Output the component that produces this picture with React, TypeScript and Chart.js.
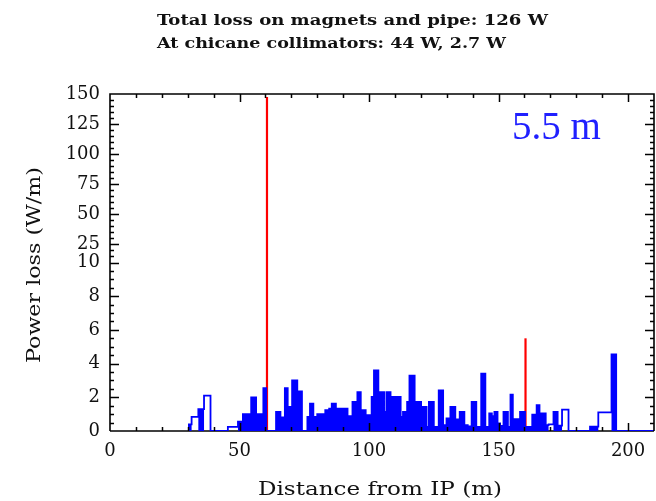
import { useEffect, useRef } from "react";
import { Chart, registerables } from "chart.js";
Chart.register(...registerables);

// Histogram bins: left edge (m), power loss (W/m), open (outline-only) flag
const binEdges = [
  30.1, 31.5, 34.1, 36.3, 38.8, 45.5, 49.4, 51.3, 54.5, 56.4, 59.2, 60.3,
  64.1, 65.8, 67.5, 68.6, 70.3, 72.3, 74.1, 76.2, 77.2, 78.5, 80.0, 83.1,
  84.6, 85.6, 87.2, 89.7, 90.0, 91.7, 93.6, 95.5, 96.8, 98.7, 99.3, 101.0,
  101.9, 103.6, 105.8, 106.7, 108.3, 112.2, 113.1, 114.7, 115.6, 117.6, 120.1, 122.2,
  123.1, 125.0, 126.9, 128.6, 129.9, 131.4, 133.3, 135.0, 136.8, 138.1, 139.6, 141.4,
  143.3, 144.9, 146.4, 147.4, 148.4, 149.6, 150.6, 151.9, 153.6, 154.6, 155.5, 158.3,
  160.2, 163.0, 164.7, 165.8, 168.2, 169.3, 171.2, 172.8, 174.5, 177.0, 185.3, 188.5,
  193.6, 195.4, 210,
];
const lossValues = [
  0.39, 0.84, 1.3, 2.1, 0, 0.25, 0.55, 1.0, 2.0, 1.0, 2.55, 0,
  1.14, 0.8, 2.55, 1.43, 3.0, 2.35, 0, 0.84, 1.63, 0.84, 1.0, 1.24,
  1.33, 1.63, 1.33, 0, 1.33, 0.88, 1.73, 2.31, 1.24, 0, 0.94, 2.02,
  3.59, 2.31, 1.14, 2.31, 2.02, 0.84, 1.14, 1.73, 3.29, 1.73, 1.43, 0.25,
  1.73, 0.25, 2.41, 0.35, 0.75, 1.43, 0.69, 1.14, 0.35, 0.28, 1.73, 0.25,
  3.4, 0.25, 1.04, 0.88, 1.14, 0.45, 0.3, 1.14, 0.25, 2.15, 0.7, 1.14,
  0.25, 0.97, 1.53, 1.04, 0.35, 0.39, 1.14, 0.32, 1.27, 0, 0.26, 1.11,
  4.55, 0, 0,
];
const openFlags = [
  0, 1, 0, 1, 0, 1, 0, 0, 0, 0, 0, 0,
  0, 0, 0, 0, 0, 0, 0, 0, 0, 0, 0, 0,
  0, 0, 0, 0, 0, 0, 0, 0, 0, 0, 0, 0,
  0, 0, 0, 0, 0, 0, 0, 0, 0, 0, 0, 0,
  0, 0, 0, 0, 0, 0, 0, 0, 0, 0, 0, 0,
  0, 0, 0, 0, 0, 0, 0, 0, 0, 0, 0, 0,
  0, 0, 0, 0, 0, 1, 0, 0, 1, 0, 0, 1,
  0, 0, 0,
];
const collimatorPositions = [60.6, 160.4];
const collimatorLoss = [147.5, 5.5];
const yTickLabels = [0, 2, 4, 6, 8, 10, 25, 50, 75, 100, 125, 150];
const xTickLabels = [0, 50, 100, 150, 200];
const titleLines = [
  "Total loss on magnets and pipe: 126 W",
  "At chicane collimators: 44 W, 2.7 W",
];
const xTitle = "Distance from IP (m)";
const yTitle = "Power loss (W/m)";
const annotation = "5.5 m";

const BREAK = 10;
const UPPER_COMPRESS = 14;
const toAxis = (v: number) => (v <= BREAK ? v : BREAK + (v - BREAK) / UPPER_COMPRESS);
const fromAxis = (u: number) => (u <= BREAK ? u : BREAK + (u - BREAK) * UPPER_COMPRESS);

const BLUE = "#0000ff";
const RED = "#ff0000";
const SERIF = "'DejaVu Serif', serif";

function fitText(
  ctx: CanvasRenderingContext2D,
  text: string,
  x: number,
  y: number,
  width: number,
  font: string,
  color: string,
  center = false,
  rotate = 0
) {
  ctx.save();
  ctx.font = font;
  ctx.fillStyle = color;
  ctx.textBaseline = "alphabetic";
  ctx.textAlign = "left";
  const w = ctx.measureText(text).width;
  ctx.translate(x, y);
  if (rotate) ctx.rotate(rotate);
  ctx.scale(width / w, 1);
  ctx.fillText(text, center ? -w / 2 : 0, 0);
  ctx.restore();
}

function drawTicks(chart: any) {
  const ctx: CanvasRenderingContext2D = chart.ctx;
  const a = chart.chartArea;
  const xs = chart.scales.x;
  const ys = chart.scales.y;
  ctx.save();
  ctx.strokeStyle = "#000000";
  ctx.lineWidth = 1.5;
  ctx.beginPath();
  for (let m = 10; m < 210; m += 10) {
    const px = Math.round(xs.getPixelForValue(m)) + 0.5;
    const len = m % 50 === 0 ? 8 : 4;
    ctx.moveTo(px, a.top);
    ctx.lineTo(px, a.top + len);
    ctx.moveTo(px, a.bottom);
    ctx.lineTo(px, a.bottom - len);
  }
  const yTick = (v: number, major: boolean) => {
    const py = Math.round(ys.getPixelForValue(toAxis(v))) + 0.5;
    const len = major ? 9 : 4;
    ctx.moveTo(a.left, py);
    ctx.lineTo(a.left + len, py);
    ctx.moveTo(a.right, py);
    ctx.lineTo(a.right - len, py);
  };
  for (let k = 1; k <= 20; k++) yTick(k * 0.5, k % 4 === 0);
  for (let v = 15; v < 150; v += 5) yTick(v, v % 25 === 0);
  ctx.stroke();
  ctx.restore();
}

const decor = {
  id: "decor",
  beforeDatasetsDraw(chart: any) {
    const { ctx, chartArea: a } = chart;
    ctx.save();
    ctx.strokeStyle = "#000";
    ctx.lineWidth = 1.6;
    ctx.beginPath();
    ctx.moveTo(a.left, a.bottom);
    ctx.lineTo(a.right, a.bottom);
    ctx.stroke();
    ctx.restore();
  },
  afterDraw(chart: any) {
    const { ctx, chartArea: a } = chart;
    ctx.save();
    ctx.strokeStyle = "#000";
    ctx.lineWidth = 1.6;
    ctx.beginPath();
    ctx.moveTo(a.left, a.bottom);
    ctx.lineTo(a.left, a.top);
    ctx.lineTo(a.right, a.top);
    ctx.lineTo(a.right, a.bottom);
    ctx.stroke();
    ctx.restore();
    drawTicks(chart);
    fitText(ctx, titleLines[0], 157, 25, 391, `bold 15px ${SERIF}`, "#111");
    fitText(ctx, titleLines[1], 157, 48, 349, `bold 15px ${SERIF}`, "#111");
    fitText(ctx, xTitle, 380, 495, 244, `19px ${SERIF}`, "#111", true);
    fitText(ctx, yTitle, 40, 265, 196, `19px ${SERIF}`, "#111", true, -Math.PI / 2);
    ctx.save();
    ctx.font = "39px 'Liberation Serif', serif";
    ctx.fillStyle = "#2020ff";
    ctx.textBaseline = "alphabetic";
    ctx.fillText(annotation, 512, 139);
    ctx.restore();
  },
};

export default function App() {
  const ref = useRef<HTMLCanvasElement | null>(null);
  useEffect(() => {
    if (!ref.current) return;
    const filled = binEdges.map((x, i) => ({ x, y: openFlags[i] ? 0 : toAxis(lossValues[i]) }));
    const outline = binEdges.map((x, i) => ({ x, y: toAxis(lossValues[i]) }));
    const spikes = collimatorPositions.map((x, i) => ({
      type: "line" as const,
      data: [
        { x, y: 0 },
        { x, y: toAxis(collimatorLoss[i]) },
      ],
      borderColor: RED,
      borderWidth: 2.2,
      pointRadius: 0,
      fill: false,
    }));
    const chart = new Chart(ref.current, {
      type: "line",
      data: {
        datasets: [
          {
            data: filled,
            stepped: "before",
            fill: "origin",
            backgroundColor: BLUE,
            borderColor: "rgba(0,0,0,0)",
            borderWidth: 0,
            pointRadius: 0,
          },
          {
            data: outline,
            stepped: "before",
            fill: false,
            borderColor: BLUE,
            borderWidth: 1.8,
            pointRadius: 0,
          },
          ...spikes,
        ] as any,
      },
      options: {
        animation: false,
        responsive: false,
        devicePixelRatio: 1,
        layout: { padding: { left: 0, top: 94, right: 2, bottom: 0 } },
        plugins: { legend: { display: false }, tooltip: { enabled: false }, title: { display: false } },
        scales: {
          x: {
            type: "linear",
            min: 0,
            max: 210,
            grid: { display: false, drawTicks: false },
            border: { display: false },
            afterBuildTicks: (s: any) => {
              s.ticks = xTickLabels.map((v) => ({ value: v }));
            },
            afterFit: (s: any) => {
              s.height = 70;
            },
            ticks: {
              autoSkip: false,
              maxRotation: 0,
              padding: 10,
              color: "#111",
              font: { family: SERIF, size: 18 },
              callback: (v: any) => String(v),
            },
          },
          y: {
            type: "linear",
            min: 0,
            max: toAxis(150),
            grid: { display: false, drawTicks: false },
            border: { display: false },
            afterBuildTicks: (s: any) => {
              s.ticks = yTickLabels.map((v) => ({ value: toAxis(v) }));
            },
            afterFit: (s: any) => {
              s.width = 110;
            },
            ticks: {
              autoSkip: false,
              padding: 10,
              color: "#111",
              font: { family: SERIF, size: 18 },
              callback: (v: any) => String(Math.round(fromAxis(Number(v)))),
            },
          },
        },
      },
      plugins: [decor],
    });
    return () => chart.destroy();
  }, []);
  return (
    <div style={{ position: "absolute", left: 0, top: 0, width: 656, height: 501, background: "#fff" }}>
      <canvas ref={ref} width={656} height={501} style={{ display: "block" }} />
    </div>
  );
}
